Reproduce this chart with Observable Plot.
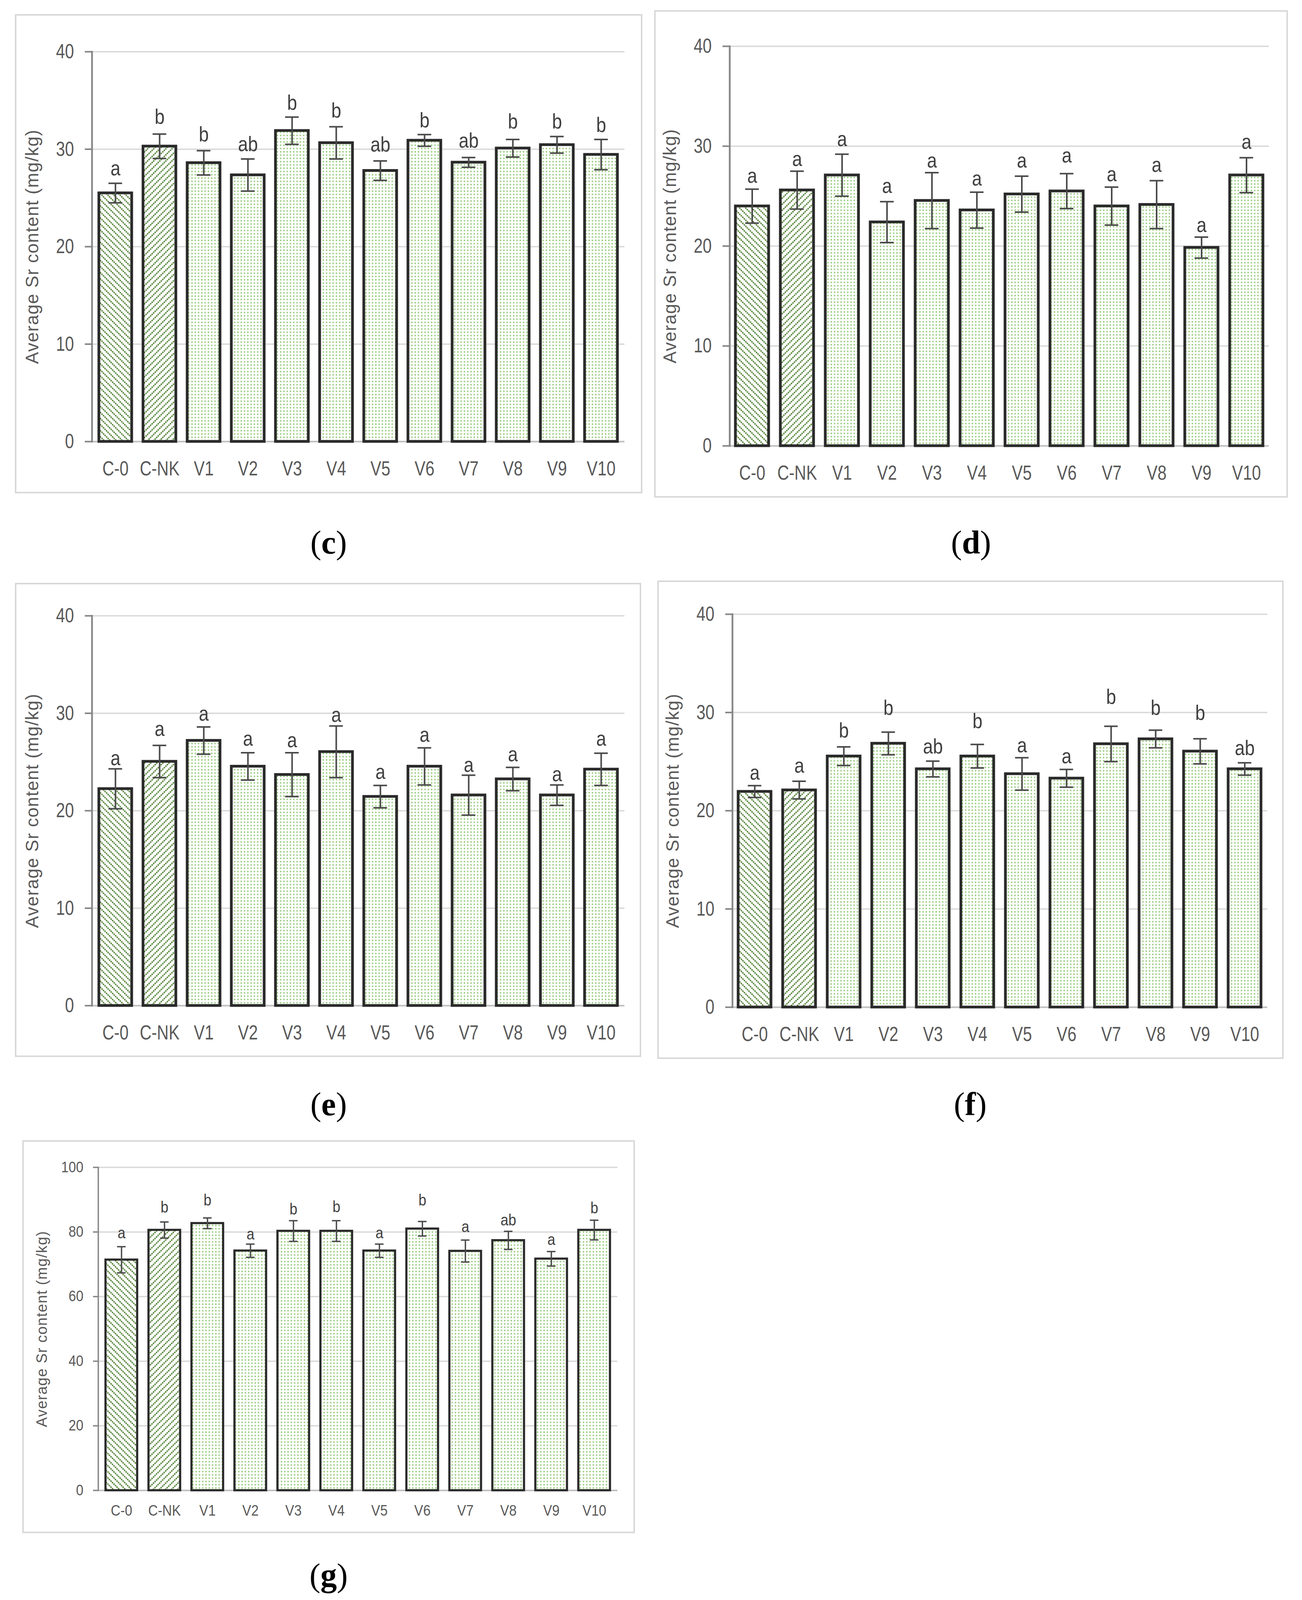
<!DOCTYPE html>
<html><head><meta charset="utf-8">
<script src="https://cdn.jsdelivr.net/npm/d3@7"></script>
<script src="https://cdn.jsdelivr.net/npm/@observablehq/plot@0.6"></script>
<style>
html,body{margin:0;padding:0;background:#fff;}
body{width:3332px;height:4096px;position:relative;overflow:hidden;}
.panel{position:absolute;border:4px solid #d9d9d9;background:#fff;}
.panel svg{display:block;}
.cap{position:absolute;font-family:"Liberation Serif","Times New Roman",serif;font-size:84px;color:#000;transform:translate(-50%,-50%);white-space:nowrap;line-height:1;}
g[aria-label="y-axis label"] text{letter-spacing:1.5px;}
</style></head><body>
<svg width="0" height="0" style="position:absolute">
<defs>
<pattern id="hatchBack" patternUnits="userSpaceOnUse" width="11" height="11" patternTransform="rotate(45)">
<rect width="11" height="11" fill="#fff"/>
<line x1="0" y1="5.5" x2="11" y2="5.5" stroke="#467a27" stroke-width="3.4" stroke-dasharray="3.7 1.8"/>
</pattern>
<pattern id="hatchFwd" patternUnits="userSpaceOnUse" width="11" height="11" patternTransform="rotate(-45)">
<rect width="11" height="11" fill="#fff"/>
<line x1="0" y1="5.5" x2="11" y2="5.5" stroke="#467a27" stroke-width="3.4" stroke-dasharray="3.7 1.8"/>
</pattern>
<pattern id="dots" patternUnits="userSpaceOnUse" width="8.4" height="8.4">
<rect width="8.4" height="8.4" fill="#fff"/>
<rect x="2.4" y="2.4" width="3.6" height="3.6" fill="#93c976"/>
</pattern>
</defs>
</svg>
<script>
// ---- data ----
const categories = ["C-0","C-NK","V1","V2","V3","V4","V5","V6","V7","V8","V9","V10"];
const ticks40 = [0,10,20,30,40];
const ticks100 = [0,20,40,60,80,100];
const yLabel = "Average Sr content (mg/kg)";

const valuesC  = [25.5,30.3,28.6,27.35,31.9,30.65,27.8,30.9,28.65,30.1,30.45,29.45];
const errorsC  = [1.0,1.25,1.25,1.65,1.4,1.65,1.0,0.6,0.5,0.9,0.85,1.55];
const lettersC = ["a","b","b","ab","b","b","ab","b","ab","b","b","b"];
const letterYC = [28.0,33.3,31.5,30.5,34.75,33.95,30.45,32.95,30.85,32.8,32.8,32.45];

const valuesD  = [24.0,25.6,27.1,22.4,24.55,23.6,25.2,25.5,24.0,24.15,19.85,27.1];
const errorsD  = [1.7,1.9,2.1,2.05,2.8,1.8,1.8,1.75,1.9,2.4,1.05,1.75];
const lettersD = ["a","a","a","a","a","a","a","a","a","a","a","a"];
const letterYD = [27.0,28.7,30.7,26.0,28.55,26.75,28.55,29.05,27.15,28.1,22.1,30.4];

const valuesE  = [22.25,25.05,27.2,24.55,23.7,26.05,21.45,24.55,21.6,23.25,21.6,24.25];
const errorsE  = [2.05,1.65,1.4,1.4,2.25,2.65,1.15,1.9,2.05,1.2,1.05,1.65];
const lettersE = ["a","a","a","a","a","a","a","a","a","a","a","a"];
const letterYE = [25.35,28.35,29.95,27.35,27.2,29.8,23.95,27.75,24.7,25.75,23.7,27.35];

const valuesF  = [21.95,22.1,25.55,26.85,24.25,25.55,23.75,23.3,26.8,27.3,26.05,24.25];
const errorsF  = [0.6,0.9,0.95,1.15,0.8,1.2,1.65,0.9,1.8,0.9,1.28,0.63];
const lettersF = ["a","a","b","b","ab","b","a","a","b","b","b","ab"];
const letterYF = [23.85,24.55,28.15,30.45,26.5,29.1,26.65,25.5,31.55,30.45,29.95,26.35];

const valuesG  = [71.4,80.6,82.7,74.2,80.3,80.3,74.2,81.0,74.1,77.4,71.7,80.6];
const errorsG  = [4.05,2.5,1.65,2.05,3.2,3.2,2.05,2.25,3.4,2.8,2.25,3.05];
const lettersG = ["a","b","b","a","b","b","a","b","a","ab","a","b"];
const letterYG = [79.6,87.6,89.7,79.2,86.95,87.75,79.6,89.7,81.5,83.6,77.6,87.35];

const panelNames = ["c","d","e","f","g"];

// ---- layout (reference pixel coords; vertically fitted to the visible viewport) ----
const ky = Math.min(1, window.innerHeight / 4266);
const layout = {
  c: {values: valuesC, errors: errorsC, letters: lettersC, letterY: letterYC, ticks: ticks40, box: [38,38,1606,1278], m: [100,46,138,197], cap: [841,1447], big: true},
  d: {values: valuesD, errors: errorsD, letters: lettersD, letterY: letterYD, ticks: ticks40, box: [1674,27,1622,1300], m: [96,49,139,193], cap: [2485,1447], big: true},
  e: {values: valuesE, errors: errorsE, letters: lettersE, letterY: letterYE, ticks: ticks40, box: [38,1554,1603,1264], m: [87,43,137,197], cap: [841,2944], big: true},
  f: {values: valuesF, errors: errorsF, letters: lettersF, letterY: letterYF, ticks: ticks40, box: [1682,1548,1603,1276], m: [90,42,138,192], cap: [2483,2944], big: true},
  g: {values: valuesG, errors: errorsG, letters: lettersG, letterY: letterYG, ticks: ticks100, box: [57,3040,1568,1048], m: [72,45,115,194], cap: [841,4200], big: false}
};

const fontFam = "'Liberation Sans',Arial,sans-serif";
function fillFor(cat) {
  if (cat === "C-0") return "url(#hatchBack)";
  if (cat === "C-NK") return "url(#hatchFwd)";
  return "url(#dots)";
}

// narrow glyphs horizontally around their anchor to mimic the condensed chart font
function squeeze(root, selector, sx) {
  root.querySelectorAll(selector).forEach(t => {
    const bb = t.getBBox();
    const anchor = getComputedStyle(t).textAnchor;
    const px = anchor === "end" ? bb.x + bb.width : anchor === "start" ? bb.x : bb.x + bb.width / 2;
    const py = bb.y + bb.height / 2;
    const tr = t.getAttribute("transform") || "";
    t.setAttribute("transform", `${tr} translate(${px},${py}) scale(${sx},1) translate(${-px},${-py})`);
  });
}

for (const name of panelNames) {
  const L = layout[name];
  const bx = L.box[0], bw = L.box[2];
  const by = Math.round(L.box[1] * ky), bh = Math.round(L.box[3] * ky);
  const b = 4;
  const W = bw - 2*b, H = bh - 2*b;
  const mt = Math.round(L.m[0] * ky) - b, mr = L.m[1] - b, mb = Math.round(L.m[2] * ky) - b, ml = L.m[3] - b;
  const rows = categories.map((c, i) => ({cat: c, value: L.values[i], err: L.errors[i], letter: L.letters[i], ly: L.letterY[i]}));
  const fs = L.big ? 52 : 38;
  const lfs = L.big ? 54 : 40;
  const labfs = L.big ? 46 : 38;
  const capW = L.big ? 35 : 23;
  const band = (W - ml - mr) / 12 * 0.74;
  const inset = (band - capW) / 2;
  const barStroke = L.big ? 7 : 5.5;
  const errStroke = L.big ? 4 : 3.5;

  const svg = Plot.plot({
    width: W, height: H,
    marginTop: mt, marginRight: mr, marginBottom: mb, marginLeft: ml,
    style: {fontFamily: fontFam, background: "#fff"},
    color: {type: "identity"},
    x: {domain: categories, paddingInner: 0.26, paddingOuter: 0.13, axis: null},
    y: {domain: [0, d3.max(L.ticks)], axis: null},
    marks: [
      Plot.ruleY(L.ticks.slice(1), {stroke: "#d9d9d9", strokeWidth: 3.5}),
      Plot.ruleY([0], {stroke: "#bfbfbf", strokeWidth: 4}),
      Plot.barY(rows, {x: "cat", y: "value", fill: d => fillFor(d.cat), stroke: "#2a2a2a", strokeWidth: barStroke}),
      Plot.ruleX(rows, {x: "cat", y1: d => d.value - d.err, y2: d => d.value + d.err, stroke: "#4a4a4a", strokeWidth: errStroke}),
      Plot.tickY(rows, {x: "cat", y: d => d.value + d.err, insetLeft: inset, insetRight: inset, stroke: "#4a4a4a", strokeWidth: errStroke}),
      Plot.tickY(rows, {x: "cat", y: d => d.value - d.err, insetLeft: inset, insetRight: inset, stroke: "#4a4a4a", strokeWidth: errStroke}),
      Plot.frame({anchor: "left", stroke: "#868686", strokeWidth: L.big ? 4.5 : 3.5}),
      Plot.axisY({ticks: L.ticks, tickFormat: d => String(d), tickSize: L.big ? 18 : 13, tickPadding: L.big ? 28 : 25,
        stroke: "#868686", strokeWidth: L.big ? 4 : 3.5, fontSize: fs, fill: "#595959"}),
      Plot.axisY({ticks: [], tickSize: 0, fontSize: labfs, fill: "#595959",
        label: yLabel, labelAnchor: "center", labelArrow: "none", labelOffset: L.big ? 170 : 158}),
      Plot.axisX({tickSize: 0, tickPadding: L.big ? 50 : 38, fontSize: fs, fill: "#595959", label: null}),
      Plot.text(rows, {x: "cat", y: "ly", text: "letter", lineAnchor: "middle", fontSize: lfs, fill: "#404040"})
    ]
  });

  const div = document.createElement("div");
  div.className = "panel";
  div.style.left = bx + "px"; div.style.top = by + "px";
  div.style.width = W + "px"; div.style.height = H + "px";
  div.appendChild(svg);
  document.body.appendChild(div);

  const sx = L.big ? 0.8 : 0.9;
  squeeze(svg, 'g[aria-label="y-axis tick label"] text', sx);
  squeeze(svg, 'g[aria-label="x-axis tick label"] text', sx);
  squeeze(svg, 'g[aria-label="text"] text', L.big ? 0.85 : 0.9);

  const cap = document.createElement("div");
  cap.className = "cap";
  cap.style.left = L.cap[0] + "px"; cap.style.top = Math.round(L.cap[1] * ky) + "px";
  cap.innerHTML = "(<b>" + name + "</b>)";
  document.body.appendChild(cap);
}
</script>
</body></html>
